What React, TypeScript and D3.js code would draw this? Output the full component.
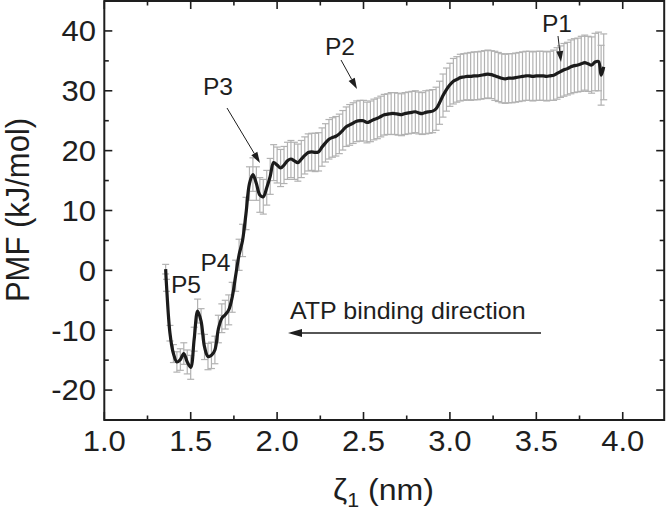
import React from "react";
import * as d3 from "d3";

// ---- data ----
const zeta = [
  1.355, 1.36, 1.38, 1.4, 1.42, 1.44, 1.46, 1.48, 1.5, 1.52, 1.54, 1.56, 1.58, 1.6, 1.62, 1.64, 1.66, 1.68, 1.7,
  1.72, 1.74, 1.76, 1.78, 1.8, 1.82, 1.84, 1.86, 1.88, 1.9, 1.92, 1.94, 1.96, 1.98, 2.0, 2.02, 2.04, 2.06, 2.08,
  2.1, 2.12, 2.14, 2.16, 2.18, 2.2, 2.22, 2.24, 2.26, 2.28, 2.3, 2.32, 2.34, 2.36, 2.38, 2.4, 2.42, 2.44, 2.46,
  2.48, 2.5, 2.52, 2.54, 2.56, 2.58, 2.6, 2.62, 2.64, 2.66, 2.68, 2.7, 2.72, 2.74, 2.76, 2.78, 2.8, 2.82, 2.84,
  2.86, 2.88, 2.9, 2.92, 2.94, 2.96, 2.98, 3.0, 3.02, 3.04, 3.06, 3.08, 3.1, 3.12, 3.14, 3.16, 3.18, 3.2, 3.22,
  3.24, 3.26, 3.28, 3.3, 3.32, 3.34, 3.36, 3.38, 3.4, 3.42, 3.44, 3.46, 3.48, 3.5, 3.52, 3.54, 3.56, 3.58, 3.6,
  3.62, 3.64, 3.66, 3.68, 3.7, 3.72, 3.74, 3.76, 3.78, 3.8, 3.82, 3.84, 3.86, 3.875, 3.89,
];
const pmf = [
  0.2, -2.5, -10.5, -13.9, -15.3, -14.9, -13.9, -15.3, -16.2, -11.5, -6.8, -8.5, -12.8, -14.4, -14.2, -13.3, -9.8,
  -8.0, -7.4, -6.6, -4.5, -0.9, 2.6, 5.0, 9.5, 14.5, 16.0, 14.5, 12.6, 12.3, 13.8, 15.7, 18.0, 17.6, 17.1, 17.6,
  18.3, 18.6, 18.3, 18.0, 18.6, 19.2, 19.7, 19.8, 19.7, 19.8, 20.6, 21.3, 21.9, 22.2, 22.4, 22.8, 23.4, 24.0,
  24.3, 24.6, 24.9, 25.0, 25.0, 24.7, 24.9, 25.2, 25.4, 25.7, 26.0, 26.1, 26.2, 26.2, 26.1, 26.0, 26.2, 26.3,
  26.4, 26.5, 26.3, 26.2, 26.4, 26.5, 26.6, 27.0, 28.0, 29.2, 30.2, 31.0, 31.6, 31.9, 32.2, 32.3, 32.4, 32.4,
  32.5, 32.5, 32.6, 32.7, 32.8, 32.7, 32.5, 32.3, 32.1, 32.0, 32.1, 32.1, 32.2, 32.3, 32.4, 32.5, 32.5, 32.4,
  32.5, 32.5, 32.5, 32.4, 32.5, 32.6, 32.9, 33.2, 33.5, 33.7, 34.0, 34.2, 34.3, 34.5, 34.7, 34.5, 34.3, 34.8,
  34.9, 32.6, 34.0,
];
const pmfErr = [
  0.8, 1.0, 1.3, 1.5, 1.7, 1.8, 1.8, 2.0, 2.0, 2.0, 2.0, 2.1, 2.1, 2.2, 2.2, 2.3, 2.3, 2.4, 2.4, 2.5, 2.5, 2.6,
  2.6, 2.7, 2.7, 2.8, 2.8, 2.8, 2.9, 2.9, 2.9, 3.0, 3.0, 3.0, 3.1, 3.1, 3.1, 3.1, 3.1, 3.1, 3.1, 3.1, 3.1, 3.1,
  3.2, 3.2, 3.2, 3.2, 3.3, 3.3, 3.3, 3.3, 3.3, 3.3, 3.4, 3.4, 3.4, 3.4, 3.4, 3.4, 3.4, 3.4, 3.4, 3.4, 3.4, 3.4,
  3.5, 3.5, 3.5, 3.5, 3.5, 3.5, 3.5, 3.5, 3.5, 3.5, 3.6, 3.6, 3.6, 3.6, 3.6, 3.6, 3.6, 3.6, 3.8, 3.8, 3.9, 3.9,
  3.9, 4.0, 4.0, 4.0, 4.0, 4.0, 4.0, 4.0, 4.1, 4.1, 4.1, 4.1, 4.1, 4.1, 4.1, 4.1, 4.1, 4.1, 4.1, 4.1, 4.1, 4.1,
  4.1, 4.1, 4.1, 4.2, 4.3, 4.3, 4.4, 4.4, 4.5, 4.5, 4.5, 4.6, 4.6, 4.6, 4.7, 4.8, 4.9, 5.0, 5.5,
];
const xTicks = [1.0, 1.5, 2.0, 2.5, 3.0, 3.5, 4.0];
const xMinor = [1.25, 1.75, 2.25, 2.75, 3.25, 3.75];
const yTicks = [-20, -10, 0, 10, 20, 30, 40];
const yMinor = [-15, -5, 5, 15, 25, 35];
const peakLabels = ["P1", "P2", "P3", "P4", "P5"];
const directionText = "ATP binding direction";

const FONT = "'Liberation Sans', Arial, Helvetica, sans-serif";
const INK = "#1e1e1e";
const SX = 1.07; // horizontal stretch seen in the reference

function T(props: {
  x: number;
  y: number;
  size: number;
  anchor?: string;
  rotate?: boolean;
  children: React.ReactNode;
}) {
  const { x, y, size, anchor = "start", rotate = false, children } = props;
  const tf = rotate
    ? `translate(${x},${y}) rotate(-90) scale(1,${SX})`
    : `translate(${x},${y}) scale(${SX},1)`;
  return (
    <text transform={tf} fontSize={size} fontFamily={FONT} fill={INK} textAnchor={anchor}>
      {children}
    </text>
  );
}

function Arrow(props: { x1: number; y1: number; x2: number; y2: number; w?: number; hl?: number; hw?: number }) {
  const { x1, y1, x2, y2, w = 1, hl = 11, hw = 3.5 } = props;
  const ang = Math.atan2(y2 - y1, x2 - x1);
  const bx = x2 - hl * Math.cos(ang);
  const by = y2 - hl * Math.sin(ang);
  const px = -Math.sin(ang) * hw;
  const py = Math.cos(ang) * hw;
  return (
    <g>
      <line x1={x1} y1={y1} x2={bx} y2={by} stroke={INK} strokeWidth={w} />
      <path d={`M${x2},${y2}L${bx + px},${by + py}L${bx - px},${by - py}Z`} fill={INK} />
    </g>
  );
}

export default function App() {
  const left = 104.3;
  const right = 664.2;
  const top = 1;
  const bottom = 420;
  const x = d3.scaleLinear().domain([1.0, 4.24]).range([left, right]);
  const y = d3.scaleLinear().domain([-25, 45]).range([bottom, top]);

  const data = zeta.map((z, i) => ({ z, v: pmf[i], e: pmfErr[i] }));
  const line = d3
    .line<{ z: number; v: number }>()
    .x((d) => x(d.z))
    .y((d) => y(d.v))
    .curve(d3.curveCatmullRom.alpha(0.5));

  const major = 8;
  const minor = 4.5;
  const tickW = 1.6;

  return (
    <svg
      width={667}
      height={510}
      style={{ position: "absolute", left: 0, top: 0, background: "#fff" }}
      xmlns="http://www.w3.org/2000/svg"
    >
      <rect x={0} y={0} width={667} height={510} fill="#fff" />
      {/* error bars */}
      <g stroke="#b2b2b2" strokeWidth={1.2} fill="none">
        {data.map((d, i) => {
          const cx = x(d.z);
          const y1 = y(d.v + d.e);
          const y2 = y(d.v - d.e);
          return (
            <g key={i}>
              <line x1={cx} x2={cx} y1={y1} y2={y2} />
              <line x1={cx - 3.5} x2={cx + 3.5} y1={y1} y2={y1} />
              <line x1={cx - 3.5} x2={cx + 3.5} y1={y2} y2={y2} />
            </g>
          );
        })}
      </g>
      {/* PMF curve */}
      <path d={line(data) || ""} fill="none" stroke="#1b1b1b" strokeWidth={3.2} strokeLinejoin="round" />

      {/* frame */}
      <rect x={left} y={top} width={right - left} height={bottom - top} fill="none" stroke={INK} strokeWidth={2} />
      {/* ticks */}
      <g stroke={INK} strokeWidth={tickW}>
        {xTicks.map((t) => (
          <g key={"xt" + t}>
            <line x1={x(t)} x2={x(t)} y1={bottom} y2={bottom - major} />
            <line x1={x(t)} x2={x(t)} y1={top} y2={top + major} />
          </g>
        ))}
        {xMinor.map((t) => (
          <g key={"xm" + t}>
            <line x1={x(t)} x2={x(t)} y1={bottom} y2={bottom - minor} />
            <line x1={x(t)} x2={x(t)} y1={top} y2={top + minor} />
          </g>
        ))}
        {yTicks.map((t) => (
          <g key={"yt" + t}>
            <line x1={left} x2={left + major} y1={y(t)} y2={y(t)} />
            <line x1={right} x2={right - major} y1={y(t)} y2={y(t)} />
          </g>
        ))}
        {yMinor.map((t) => (
          <g key={"ym" + t}>
            <line x1={left} x2={left + minor} y1={y(t)} y2={y(t)} />
            <line x1={right} x2={right - minor} y1={y(t)} y2={y(t)} />
          </g>
        ))}
      </g>
      {/* tick labels */}
      {xTicks.map((t) => (
        <T key={"xl" + t} x={x(t)} y={451} size={29} anchor="middle">
          {t.toFixed(1)}
        </T>
      ))}
      {yTicks.map((t) => (
        <T key={"yl" + t} x={96} y={y(t) + 10.4} size={29} anchor="end">
          {String(t)}
        </T>
      ))}
      {/* axis titles */}
      <T x={383.5} y={500} size={30} anchor="middle">
        <tspan>ζ</tspan>
        <tspan fontSize={20} dy={7}>1</tspan>
        <tspan dy={-7}> (nm)</tspan>
      </T>
      <T x={29} y={210} size={31} anchor="middle" rotate>
        PMF (kJ/mol)
      </T>

      {/* annotations */}
      <T x={557} y={32} size={23} anchor="middle">{peakLabels[0]}</T>
      <T x={340} y={55} size={23} anchor="middle">{peakLabels[1]}</T>
      <T x={218} y={95} size={23} anchor="middle">{peakLabels[2]}</T>
      <T x={215.5} y={271} size={23} anchor="middle">{peakLabels[3]}</T>
      <T x={186} y={293} size={23} anchor="middle">{peakLabels[4]}</T>
      <Arrow x1={558} y1={36} x2={561} y2={62} />
      <Arrow x1={341} y1={60} x2={357} y2={89} />
      <Arrow x1={227} y1={108} x2={260} y2={163} />

      <T x={290} y={319} size={23.4} anchor="start">{directionText}</T>
      <Arrow x1={541} y1={333} x2={288} y2={333} w={1.5} hl={14} hw={4} />
    </svg>
  );
}
